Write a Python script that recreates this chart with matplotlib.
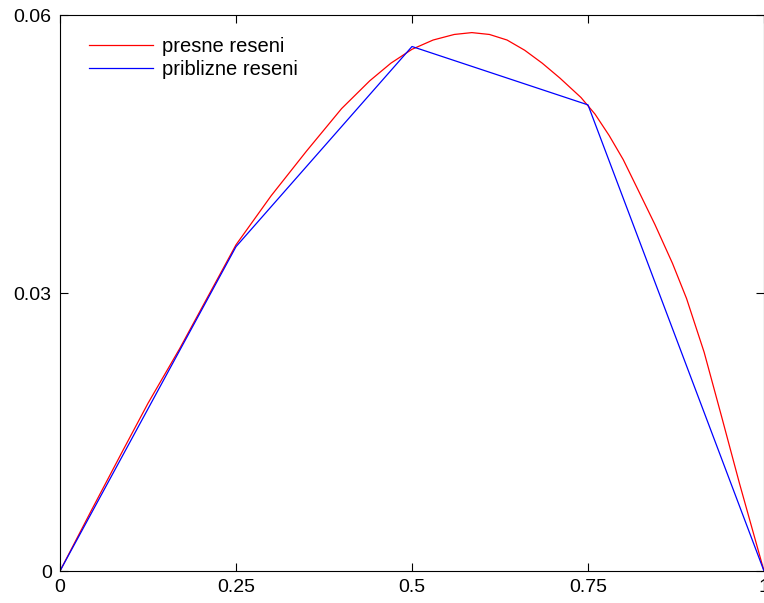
import matplotlib
matplotlib.use('Agg')
import matplotlib.pyplot as plt

# presne reseni
x_presne = [0, 0.045, 0.09, 0.125, 0.17, 0.21, 0.25, 0.30, 0.35, 0.40, 0.44, 0.47, 0.50,
            0.53, 0.56, 0.585, 0.61, 0.635, 0.66, 0.685, 0.71, 0.74, 0.76, 0.78, 0.80,
            0.82, 0.845, 0.87, 0.89, 0.915, 0.94, 0.965, 1.0]
y_presne = [0, 0.0066, 0.0131, 0.0181, 0.0240, 0.0296, 0.0352, 0.0405, 0.0453, 0.0499, 0.0529, 0.0548, 0.0563,
            0.0573, 0.0579, 0.0581, 0.0579, 0.0573, 0.0562, 0.0548, 0.0532, 0.0511, 0.0493, 0.0470, 0.0444,
            0.0413, 0.0374, 0.0332, 0.0294, 0.0236, 0.0166, 0.0095, 0]

# priblizne reseni v uzlech
x_uzly = [0, 0.25, 0.5, 0.75, 1.0]
y_uzly = [0, 0.0350, 0.0566, 0.0503, 0]

x_ticks = [0, 0.25, 0.5, 0.75, 1]
x_labels = ['0', '0.25', '0.5', '0.75', '1']
y_ticks = [0, 0.03, 0.06]
y_labels = ['0', '0.03', '0.06']

plt.rcParams['font.family'] = ['Liberation Sans', 'DejaVu Sans']

fig = plt.figure(figsize=(7.64, 6.03), dpi=100)
ax = fig.add_axes([60/764, 32/603, 704/764, 556/603])

ax.plot(x_presne, y_presne, color='#ff0000', lw=0.9, label='presne reseni')
ax.plot(x_uzly, y_uzly, color='#0000ff', lw=0.9, label='priblizne reseni')

ax.set_xlim(0, 1)
ax.set_ylim(0, 0.06)
ax.set_xticks(x_ticks)
ax.set_xticklabels(x_labels)
ax.set_yticks(y_ticks)
ax.set_yticklabels(y_labels)
ax.tick_params(direction='in', top=True, right=True, length=6, width=0.8,
               labelsize=14, pad=6)
for s in ax.spines.values():
    s.set_linewidth(0.8)

ax.legend(loc='upper left', bbox_to_anchor=(29/704, 1 - 22/556), frameon=False,
          fontsize=14.5, handlelength=3.2, handletextpad=0.4, labelspacing=0.22,
          borderaxespad=0, borderpad=0)

fig.savefig('out.png', dpi=100)
